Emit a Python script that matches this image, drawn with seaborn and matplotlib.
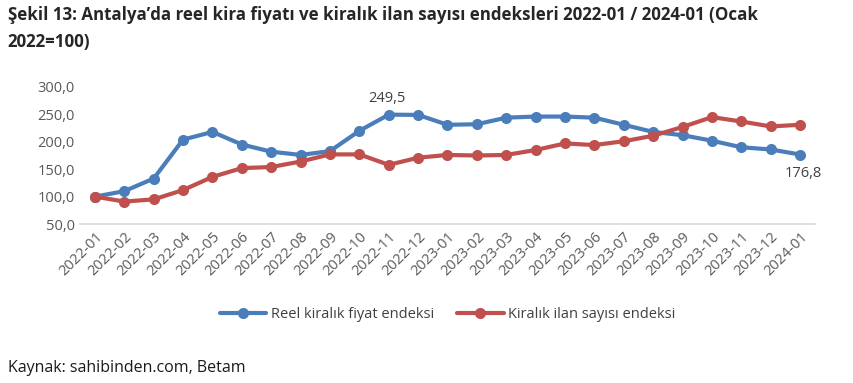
"""Antalya real rent index vs rental listing count index, 2022-01 .. 2024-01."""

import matplotlib.pyplot as plt
import pandas as pd
import seaborn as sns

MONTHS = [
    "2022-01", "2022-02", "2022-03", "2022-04", "2022-05", "2022-06",
    "2022-07", "2022-08", "2022-09", "2022-10", "2022-11", "2022-12",
    "2023-01", "2023-02", "2023-03", "2023-04", "2023-05", "2023-06",
    "2023-07", "2023-08", "2023-09", "2023-10", "2023-11", "2023-12",
    "2024-01",
]
RENT_INDEX = [
    100.0, 110.0, 133.0, 204.0, 218.0, 195.0, 182.0, 176.0, 183.0, 220.0,
    249.5, 249.0, 231.0, 232.0, 244.0, 246.0, 246.0, 244.0, 231.0, 218.0,
    212.0, 202.0, 190.0, 186.0, 176.8,
]
LISTING_INDEX = [
    100.0, 91.0, 95.0, 112.0, 136.0, 152.0, 154.0, 164.0, 177.0, 177.0,
    158.0, 171.0, 176.0, 175.0, 176.0, 185.0, 197.0, 194.0, 201.0, 211.0,
    227.0, 245.0, 237.0, 228.0, 231.0,
]
SERIES = ["Reel kiralık fiyat endeksi", "Kiralık ilan sayısı endeksi"]
COLORS = ["#4A7EBB", "#C0504D"]

TITLE = ("Şekil 13: Antalya’da reel kira fiyatı ve kiralık ilan sayısı endeksleri "
         "2022-01 / 2024-01 (Ocak\n2022=100)")
SOURCE = "Kaynak: sahibinden.com, Betam"

sns.set_theme(style="white")
plt.rcParams["font.family"] = ["Open Sans", "DejaVu Sans"]

df = pd.concat([
    pd.DataFrame({"ay": range(len(MONTHS)), "deger": RENT_INDEX, "seri": SERIES[0]}),
    pd.DataFrame({"ay": range(len(MONTHS)), "deger": LISTING_INDEX, "seri": SERIES[1]}),
])

fig = plt.figure(figsize=(8.54, 3.83), dpi=100)
ax = fig.add_axes([0.094, 0.415, 0.86, 0.358])

sns.lineplot(
    data=df, x="ay", y="deger", hue="seri", palette=COLORS,
    marker="o", markersize=8, markeredgewidth=0, linewidth=3,
    ax=ax, legend=True,
)

ax.set_xlim(-0.5, len(MONTHS) - 0.5)
ax.set_ylim(50, 300)
ax.set_yticks(range(50, 301, 50))
ax.set_yticklabels([f"{v:.1f}".replace(".", ",") for v in range(50, 301, 50)])
ax.set_xticks(range(len(MONTHS)))
ax.set_xticklabels(MONTHS, rotation=45, ha="right", rotation_mode="anchor")
ax.tick_params(axis="both", colors="#595959", labelsize=10.5, length=0, pad=4)
ax.set_xlabel("")
ax.set_ylabel("")
for side in ["top", "right", "left"]:
    ax.spines[side].set_visible(False)
ax.spines["bottom"].set_color("#d9d9d9")
ax.spines["bottom"].set_linewidth(1.2)

i_peak = RENT_INDEX.index(249.5)
ax.annotate(f"{RENT_INDEX[i_peak]:.1f}".replace(".", ","), (i_peak, RENT_INDEX[i_peak]),
            xytext=(-1, 6), textcoords="offset points", ha="center", va="bottom",
            fontsize=10.5, color="#404040")
ax.annotate(f"{RENT_INDEX[-1]:.1f}".replace(".", ","), (len(MONTHS) - 1, RENT_INDEX[-1]),
            xytext=(2, -8), textcoords="offset points", ha="center", va="top",
            fontsize=10.5, color="#404040")

handles, labels = ax.get_legend_handles_labels()
ax.legend(handles, labels, loc="center", bbox_to_anchor=(0.5, -0.66),
          ncol=2, frameon=False, fontsize=10.5, handlelength=3.2,
          columnspacing=1.6, handletextpad=0.3, labelcolor="#404040")

fig.text(0.009, 0.985, TITLE, ha="left", va="top", fontsize=12.2,
         fontweight="bold", color="#262626", linespacing=1.65,
         fontstretch="condensed")
fig.text(0.009, 0.04, SOURCE, ha="left", va="center", fontsize=11.5, color="#1a1a1a")

fig.savefig("out.png", dpi=100)
